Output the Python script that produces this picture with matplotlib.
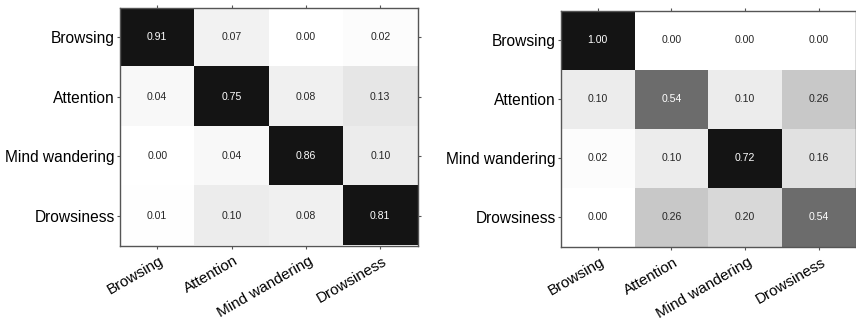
import matplotlib
matplotlib.use("Agg")
import matplotlib.pyplot as plt
from matplotlib.colors import LinearSegmentedColormap
from matplotlib.transforms import ScaledTranslation
import numpy as np

plt.rcParams['font.family'] = ['Liberation Sans', 'DejaVu Sans']

classes = ["Browsing", "Attention", "Mind wandering", "Drowsiness"]

conf_left = [
    [0.91, 0.07, 0.00, 0.02],
    [0.04, 0.75, 0.08, 0.13],
    [0.00, 0.04, 0.86, 0.10],
    [0.01, 0.10, 0.08, 0.81],
]

conf_right = [
    [1.00, 0.00, 0.00, 0.00],
    [0.10, 0.54, 0.10, 0.26],
    [0.02, 0.10, 0.72, 0.16],
    [0.00, 0.26, 0.20, 0.54],
]

# grey ramp that saturates to near-black for high agreement
anchor_v = [0.0, 0.02, 0.10, 0.20, 0.26, 0.54, 0.70, 1.0]
anchor_g = [1.0, 0.99, 0.925, 0.85, 0.785, 0.43, 0.08, 0.08]
cmap = LinearSegmentedColormap.from_list(
    "conf_grey", [(v, (g, g, g)) for v, g in zip(anchor_v, anchor_g)])

fig = plt.figure(figsize=(8.56, 3.22), dpi=100)
positions = [
    [120 / 856, 1 - 245.5 / 322, 297.5 / 856, 238 / 322],
    [561 / 856, 1 - 246.7 / 322, 294.5 / 856, 235.7 / 322],
]

spine_col = "#555555"
shift = ScaledTranslation(0.02, 0.0, fig.dpi_scale_trans)
for pos, mat in zip(positions, [conf_left, conf_right]):
    ax = fig.add_axes(pos)
    data = np.array(mat)
    ax.imshow(data, cmap=cmap, vmin=0, vmax=1, aspect="auto",
              interpolation="nearest")
    n = len(classes)
    for i in range(n):
        for j in range(n):
            v = data[i, j]
            col = "white" if v > 0.45 else "#262626"
            ax.text(j, i, f"{v:.2f}", ha="center", va="center",
                    fontsize=7.6, color=col)
    ax.set_xticks(range(n))
    ax.set_yticks(range(n))
    ax.tick_params(axis="both", direction="out", length=2.2, width=0.8,
                   color=spine_col, top=True, right=True, pad=1.6)
    ax.tick_params(axis="x", pad=3.8)
    ax.set_yticklabels(classes, fontsize=11.2)
    ax.set_xticklabels(classes, fontsize=11, rotation=30,
                       ha="right", rotation_mode="anchor")
    for lab in ax.get_xticklabels():
        lab.set_transform(lab.get_transform() + shift)
    for s in ax.spines.values():
        s.set_color(spine_col)
        s.set_linewidth(1.0)

fig.savefig("out.png", dpi=100)
